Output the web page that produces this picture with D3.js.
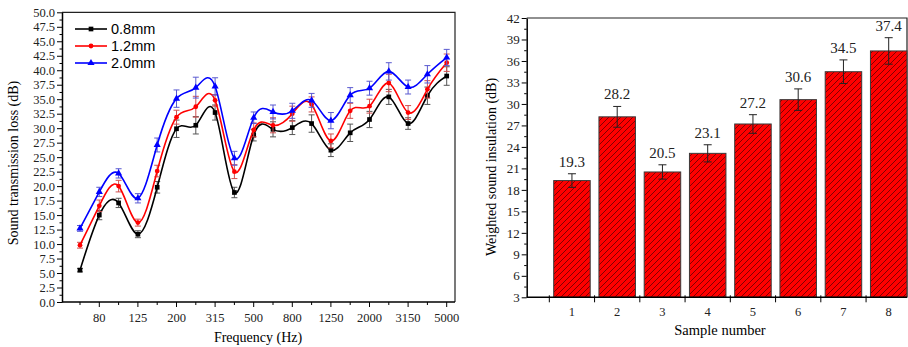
<!DOCTYPE html>
<html>
<head>
<meta charset="utf-8">
<script src="https://cdn.jsdelivr.net/npm/d3@7"></script>
<style>
    body { margin: 0; background: white; }
</style>
</head>
<body>
<div id="canvas"></div>
<script>
"use strict"

/* Data: left chart (sound transmission loss per 1/3 octave band) */
let freqBands = ["63", "80", "100", "125", "160", "200", "250", "315", "400", "500",
    "630", "800", "1000", "1250", "1600", "2000", "2500", "3150", "4000", "5000"];
let freqLabels = ["80", "125", "200", "315", "500", "800", "1250", "2000", "3150", "5000"];
let seriesNames = ["0.8mm", "1.2mm", "2.0mm"];
let loss08 = [5.5, 15.0, 17.1, 11.7, 19.8, 29.9, 30.5, 32.7, 18.9, 28.8, 29.8, 30.1, 30.8, 26.2, 29.2, 31.5, 35.4, 30.8, 35.6, 39.0];
let loss12 = [9.8, 16.6, 20.0, 13.7, 22.6, 31.9, 33.7, 34.8, 22.5, 29.7, 30.5, 32.5, 34.1, 27.8, 33.0, 33.8, 37.8, 32.7, 36.7, 41.3];
let loss20 = [12.7, 19.0, 22.2, 17.9, 27.1, 35.1, 37.0, 37.2, 24.8, 31.8, 32.8, 33.0, 34.8, 31.3, 35.7, 36.9, 39.8, 37.1, 39.3, 42.2];
let err08 = [0.3, 0.8, 0.8, 0.6, 1.0, 1.5, 1.5, 1.3, 0.9, 1.0, 1.3, 1.2, 1.5, 1.1, 1.5, 1.4, 1.3, 1.0, 1.5, 1.6];
let err12 = [0.5, 1.0, 1.0, 0.6, 1.0, 1.2, 1.8, 1.0, 1.2, 1.2, 1.3, 1.3, 1.3, 1.2, 1.3, 1.2, 1.5, 1.2, 1.5, 1.5];
let err20 = [0.5, 0.8, 0.8, 0.8, 1.2, 1.5, 1.8, 1.5, 1.2, 1.0, 1.2, 1.3, 1.2, 1.4, 1.3, 1.2, 1.5, 1.2, 1.5, 1.4];

/* Data: right chart (weighted sound insulation per sample) */
let samples = ["1", "2", "3", "4", "5", "6", "7", "8"];
let insulation = [19.3, 28.2, 20.5, 23.1, 27.2, 30.6, 34.5, 37.4];
let insulationErr = [0.95, 1.45, 1.0, 1.2, 1.3, 1.5, 1.65, 1.85];
let yTicksRight = [3, 6, 9, 12, 15, 18, 21, 24, 27, 30, 33, 36, 39, 42];

/* Configuration */
let svgWidth = 908;
let svgHeight = 347;
let serif = "'Liberation Serif', 'Times New Roman', serif";
let sans = "'Liberation Sans', Arial, sans-serif";
let lineColors = ["#000000", "#ff0000", "#0000ff"];
let errColors = ["#555555", "#d05050", "#5a5ad0"];

let svg = d3.select("#canvas")
    .append("svg")
    .attr("width", svgWidth)
    .attr("height", svgHeight);

/* ============ LEFT CHART ============ */
let leftX0 = 62, leftX1 = 455, leftY0 = 12.3, leftY1 = 302;

let xL = d3.scaleLinear()
    .domain([0, 19])
    .range([80, 446.7]);

let yL = d3.scaleLinear()
    .domain([0, 50])
    .range([leftY1, leftY0]);

/* frame top / right */
svg.append("path")
    .attr("d", `M${leftX0},${leftY0} H${leftX1} V${leftY1}`)
    .attr("fill", "none")
    .attr("stroke", "#222")
    .attr("stroke-width", 1.2);

/* minor y ticks */
svg.append("g")
    .attr("transform", `translate(${leftX0},0)`)
    .call(d3.axisLeft(yL).tickValues(d3.range(1.25, 50, 2.5)).tickSize(2.5).tickFormat(""))
    .call(g => g.select(".domain").remove());

/* major y axis */
let yAxisL = svg.append("g")
    .attr("transform", `translate(${leftX0},0)`)
    .call(d3.axisLeft(yL)
        .tickValues(d3.range(0, 50.01, 2.5))
        .tickFormat(d3.format(".1f"))
        .tickSize(5)
        .tickSizeOuter(0)
        .tickPadding(2));
yAxisL.selectAll("text")
    .attr("font-family", serif)
    .attr("font-size", 12.5)
    .attr("fill", "#222");
yAxisL.select(".domain").attr("stroke-width", 1.5);

/* x axis: major ticks with labels, minor ticks on the other bands */
let xAxisL = svg.append("g")
    .attr("transform", `translate(0,${leftY1})`);

xAxisL.append("line")
    .attr("x1", leftX0)
    .attr("x2", leftX1)
    .attr("stroke", "black")
    .attr("stroke-width", 1.5);

for (let i = 0; i < freqBands.length; i++) {
    let isMajor = freqLabels.indexOf(freqBands[i]) >= 0;
    xAxisL.append("line")
        .attr("x1", xL(i))
        .attr("x2", xL(i))
        .attr("y1", 0)
        .attr("y2", isMajor ? 5 : 3)
        .attr("stroke", "black");
    if (isMajor) {
        xAxisL.append("text")
            .attr("x", xL(i))
            .attr("y", 20)
            .attr("text-anchor", "middle")
            .attr("font-family", serif)
            .attr("font-size", 12.5)
            .attr("fill", "#222")
            .text(freqBands[i]);
    }
}

/* axis titles */
svg.append("text")
    .attr("x", 258)
    .attr("y", 342)
    .attr("text-anchor", "middle")
    .attr("font-family", serif)
    .attr("font-size", 14)
    .text("Frequency (Hz)");

svg.append("text")
    .attr("transform", "translate(18,163) rotate(-90)")
    .attr("text-anchor", "middle")
    .attr("font-family", serif)
    .attr("font-size", 14)
    .text("Sound transmission loss (dB)");

/* curves, error bars and markers */
let allSeries = [loss08, loss12, loss20];
let allErrors = [err08, err12, err20];

let line = d3.line()
    .x(function (value, index) { return xL(index); })
    .y(function (value) { return yL(value); })
    .curve(d3.curveNatural);

let symbolTypes = [d3.symbolSquare, d3.symbolCircle, d3.symbolTriangle];
let symbolSizes = [22, 18, 22];

for (let s = 0; s < allSeries.length; s++) {
    let vals = allSeries[s];
    let errs = allErrors[s];

    /* error bars */
    for (let i = 0; i < vals.length; i++) {
        let x = xL(i);
        let yTop = yL(vals[i] + errs[i]);
        let yBot = yL(vals[i] - errs[i]);
        svg.append("path")
            .attr("d", `M${x},${yTop} V${yBot} M${x - 3},${yTop} H${x + 3} M${x - 3},${yBot} H${x + 3}`)
            .attr("fill", "none")
            .attr("stroke", errColors[s])
            .attr("stroke-width", 1);
    }

    svg.append("path")
        .datum(vals)
        .attr("d", line)
        .attr("fill", "none")
        .attr("stroke", lineColors[s])
        .attr("stroke-width", 1.6);

    svg.selectAll(".marker" + s)
        .data(vals)
        .join("path")
        .attr("class", "marker" + s)
        .attr("transform", function (value, index) {
            return `translate(${xL(index)},${yL(value)})`;
        })
        .attr("d", d3.symbol().type(symbolTypes[s]).size(symbolSizes[s]))
        .attr("fill", lineColors[s]);
}

/* legend */
for (let s = 0; s < seriesNames.length; s++) {
    let ly = 29 + s * 17;
    svg.append("line")
        .attr("x1", 75)
        .attr("x2", 107)
        .attr("y1", ly)
        .attr("y2", ly)
        .attr("stroke", lineColors[s])
        .attr("stroke-width", 1.6);
    svg.append("path")
        .attr("transform", `translate(91,${ly})`)
        .attr("d", d3.symbol().type(symbolTypes[s]).size(symbolSizes[s]))
        .attr("fill", lineColors[s]);
    svg.append("text")
        .attr("x", 111)
        .attr("y", ly)
        .attr("dy", "0.35em")
        .attr("font-family", sans)
        .attr("font-size", 14.5)
        .text(seriesNames[s]);
}

/* ============ RIGHT CHART ============ */
let rightX0 = 526.7, rightX1 = 907, rightY0 = 18, rightY1 = 297.3;

let xR = d3.scaleLinear()
    .domain([0, 8.4])
    .range([rightX0, rightX0 + 8.4 * 45.25]);

let yR = d3.scaleLinear()
    .domain([3, 42])
    .range([rightY1, rightY0]);

/* hatch pattern for the bars */
let defs = svg.append("defs");
let pattern = defs.append("pattern")
    .attr("id", "hatch")
    .attr("patternUnits", "userSpaceOnUse")
    .attr("width", 6)
    .attr("height", 6);
pattern.append("rect")
    .attr("width", 6)
    .attr("height", 6)
    .attr("fill", "#ff0000");
pattern.append("path")
    .attr("d", "M0,6 L6,0 M-1,1 L1,-1 M5,7 L7,5")
    .attr("stroke", "#4a0000")
    .attr("stroke-width", 0.7);

/* frame top / right */
svg.append("path")
    .attr("d", `M${rightX0},${rightY0} H${rightX1} V${rightY1}`)
    .attr("fill", "none")
    .attr("stroke", "#222")
    .attr("stroke-width", 1.2);

/* bars */
let barWidth = 36.5;
svg.selectAll(".bar")
    .data(insulation)
    .join("rect")
    .attr("class", "bar")
    .attr("x", function (value, index) { return xR(index + 1) - barWidth / 2; })
    .attr("y", function (value) { return yR(value); })
    .attr("width", barWidth)
    .attr("height", function (value) { return yR(3) - yR(value); })
    .attr("fill", "url(#hatch)")
    .attr("stroke", "#3a3a3a")
    .attr("stroke-width", 1);

/* error bars and value labels */
for (let i = 0; i < insulation.length; i++) {
    let x = xR(i + 1);
    let yTop = yR(insulation[i] + insulationErr[i]);
    let yBot = yR(insulation[i] - insulationErr[i]);
    svg.append("path")
        .attr("d", `M${x},${yTop} V${yBot} M${x - 4},${yTop} H${x + 4} M${x - 4},${yBot} H${x + 4}`)
        .attr("fill", "none")
        .attr("stroke", "#222")
        .attr("stroke-width", 1);
    svg.append("text")
        .attr("x", x)
        .attr("y", yTop - 7)
        .attr("text-anchor", "middle")
        .attr("font-family", serif)
        .attr("font-size", 15)
        .attr("fill", "#222")
        .text(insulation[i].toFixed(1));
}

/* minor y ticks */
svg.append("g")
    .attr("transform", `translate(${rightX0},0)`)
    .call(d3.axisLeft(yR).tickValues(d3.range(4.5, 42, 3)).tickSize(2.5).tickFormat(""))
    .call(g => g.select(".domain").remove());

let yAxisR = svg.append("g")
    .attr("transform", `translate(${rightX0},0)`)
    .call(d3.axisLeft(yR)
        .tickValues(yTicksRight)
        .tickSize(5)
        .tickSizeOuter(0)
        .tickPadding(2));
yAxisR.selectAll("text")
    .attr("font-family", serif)
    .attr("font-size", 13)
    .attr("fill", "#222");
yAxisR.select(".domain").attr("stroke-width", 1.5);

/* x axis: ticks between bars, labels under bars */
let xAxisR = svg.append("g")
    .attr("transform", `translate(0,${rightY1})`);

xAxisR.append("line")
    .attr("x1", rightX0)
    .attr("x2", rightX1)
    .attr("stroke", "black")
    .attr("stroke-width", 1.5);

for (let i = 0; i < samples.length; i++) {
    xAxisR.append("line")
        .attr("x1", xR(i + 0.5))
        .attr("x2", xR(i + 0.5))
        .attr("y1", -2)
        .attr("y2", 5)
        .attr("stroke", "black");
    xAxisR.append("text")
        .attr("x", xR(i + 1))
        .attr("y", 19)
        .attr("text-anchor", "middle")
        .attr("font-family", serif)
        .attr("font-size", 12.5)
        .attr("fill", "#222")
        .text(samples[i]);
}

svg.append("text")
    .attr("x", 720)
    .attr("y", 335)
    .attr("text-anchor", "middle")
    .attr("font-family", serif)
    .attr("font-size", 14.5)
    .text("Sample number");

svg.append("text")
    .attr("transform", "translate(496,167) rotate(-90)")
    .attr("text-anchor", "middle")
    .attr("font-family", serif)
    .attr("font-size", 14)
    .text("Weighted sound insulation (dB)");
</script>
</body>
</html>
